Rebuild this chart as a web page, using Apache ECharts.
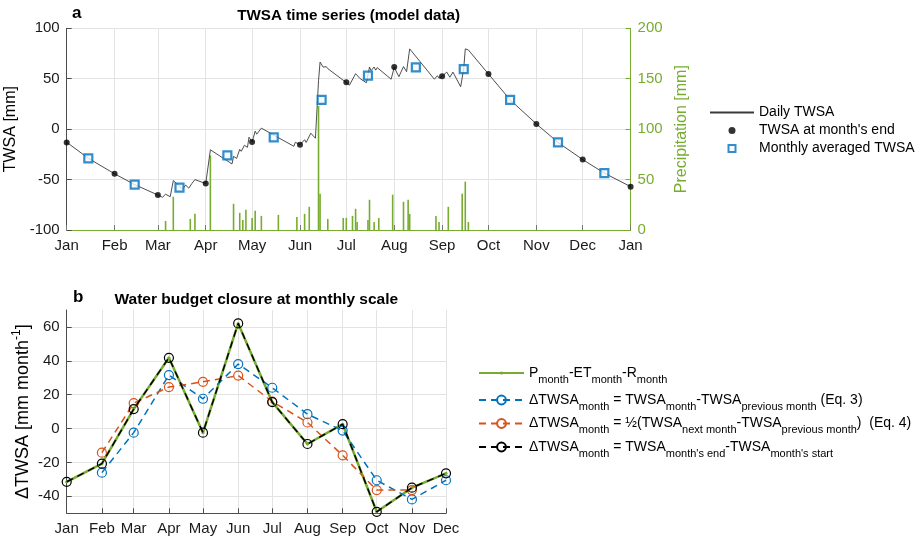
<!DOCTYPE html>
<html>
<head>
<meta charset="utf-8">
<script src="https://cdn.jsdelivr.net/npm/echarts@6/dist/echarts.min.js"></script>
<style>html,body{margin:0;padding:0;background:#fff}#c{width:921px;height:541px}</style>
</head>
<body>
<div id="c"></div>
<script>
// ---------- data ----------
const monthLabels = ['Jan','Feb','Mar','Apr','May','Jun','Jul','Aug','Sep','Oct','Nov','Dec','Jan'];
const monthStartDays = [0,31,59,90,120,151,181,212,243,273,304,334,365];

// daily TWSA (vertices), day of year / mm
const dailyDays = [0,14,31,44,59,62,64,67,69,75,77,79,81,83,90,93,107,108,110,112,113,115,117,118,120,122,123,126,147,148,151,154,155,158,161,163,164,166,168,169,170,179,181,183,184,187,190,194,196,197,199,200,201,210,212,215,218,220,222,238,240,241,243,246,248,250,255,257,258,259,260,273,287,304,318,334,348,365];
const dailyTWSA = [-13,-28.9,-44.3,-55,-65.3,-67.5,-64.5,-67,-51,-59.5,-55.5,-58.5,-54,-50,-54,-20.5,-34.5,-27,-29,-20,-22,-16,-18,-8,-12.8,-2,-5,1,-17,-13,-15.4,-10.5,-13.2,-4,-9,48,66.5,61.5,62,60,61.5,48.5,46.5,43.6,41.9,55,50,46,61.6,58,61.6,58.5,61,49.5,61.3,52,62,57,79.6,49.5,53,50.5,52.4,56.6,51.5,56.6,42,60,79.6,80,78.5,54.7,29.1,5.2,-13.2,-30.2,-43.6,-57];

// TWSA at month's end
const monthEndTWSA = [-13.2,-44.3,-65.3,-53.8,-12.8,-15.4,46.5,61.6,52.4,54.7,5.2,-30.2,-57];

// monthly averaged TWSA
const monthAvgDays = [14,44,73,104,134,165,195,226,257,287,318,348];
const monthAvgTWSA = [-28.9,-55.1,-58,-26,-8.2,29.1,53.1,61.3,59.6,29.1,-13.2,-43.6];

// daily precipitation (mm)
const precipDays = [64,69,80,83,93,108,112,114,116,120,122,126,137,149,154,157,163,164,169,179,181,185,187,188,195,196,199,202,211,218,221,222,239,241,247,256,258,260];
const precipMM   = [9,33,11,16,74,26,17,10,20,12,19,14,15,13,16,23,123,36,11,12,12,14,21,8,10,30,8,12,35,28,30,16,14,8,23,36,48,8];

// panel b: monthly delta TWSA (mm/month)
const petValues     = [-31.4,-20.7,11.5,41.8,-2.4,62.1,15.6,-9.1,2.6,-49.1,-34.9,-26.4];
const eq3Values     = [null,-26,-2.4,31.6,17.6,38.1,24.1,8.5,-1.2,-30.5,-41.8,-30.5];
const eq4Values     = [null,-14.2,15,24.5,27.6,31.3,16,3.6,-15.8,-36.3,-36.3,null];
const endStartValues= [-31.4,-20.7,11.5,41.8,-2.4,62.1,15.6,-9.1,2.6,-49.1,-34.9,-26.4];
const panelBTicks   = [-40,-20,0,20,40,60];

// ---------- helpers ----------
const FONT = "'Liberation Sans', Arial, Helvetica, sans-serif";
const topCats = Array.from({length: 366}, (_, i) => String(i));
const botCats = Array.from({length: 335}, (_, i) => String(i));
const isMonthStart = (i) => monthStartDays.indexOf(i) >= 0;
const labelFor = (i) => monthLabels[monthStartDays.indexOf(i)];
const pairs = (xs, ys) => xs.map((x, i) => [x, ys[i]]).filter(p => p[1] !== null);
const monthPairs = (vals) => pairs(monthStartDays.slice(0, 12), vals);

const GRID = '#e3e3e3', AX = '#4d4d4d', GREEN = '#77AC30', BLUE = '#0072BD', ORANGE = '#D95319';
const SQUARE = 'path://M0,0L10,0L10,10L0,10Z';

const legendText = {
  pet: '{b|P}{s|month}{b|-ET}{s|month}{b|-R}{s|month}',
  eq3: '{b|\u0394TWSA}{s|month}{b| = TWSA}{s|month}{b|-TWSA}{s|previous month}{b| (Eq. 3)}',
  eq4: '{b|\u0394TWSA}{s|month}{b| = \u00bd(TWSA}{s|next month}{b|-TWSA}{s|previous month}{b|)  (Eq. 4)}',
  es:  '{b|\u0394TWSA}{s|month}{b| = TWSA}{s|month\'s end}{b|-TWSA}{s|month\'s start}'
};
const richSub = {
  b: {fontSize: 14, lineHeight: 24, fontFamily: FONT, color: '#000'},
  s: {fontSize: 11, lineHeight: 11, verticalAlign: 'bottom', fontFamily: FONT, color: '#000'}
};

const chart = echarts.init(document.getElementById('c'));
chart.setOption({
  animation: false,
  textStyle: {fontFamily: FONT},
  title: [
    {text: 'a', left: 72, top: 5, padding: 0, textStyle: {fontSize: 17, fontWeight: 'bold', color: '#000', fontFamily: FONT}},
    {text: 'TWSA time series (model data)', left: 348.6, textAlign: 'center', top: 8, padding: 0, textStyle: {fontSize: 15.2, fontWeight: 'bold', color: '#000', fontFamily: FONT}},
    {text: 'b', left: 73, top: 289, padding: 0, textStyle: {fontSize: 17, fontWeight: 'bold', color: '#000', fontFamily: FONT}},
    {text: 'Water budget closure at monthly scale', left: 256.3, textAlign: 'center', top: 292, padding: 0, textStyle: {fontSize: 15.5, fontWeight: 'bold', color: '#000', fontFamily: FONT}}
  ],
  legend: [
    {
      data: [{name: 'Daily TWSA', itemStyle: {color: 'rgba(0,0,0,0)', borderWidth: 0, opacity: 0}}, "TWSA at month's end", 'Monthly averaged TWSA'],
      orient: 'vertical', left: 709, top: 105, padding: 0, itemWidth: 44, itemHeight: 7, itemGap: 3,
      symbolKeepAspect: true,
      textStyle: {fontSize: 14, color: '#000', fontFamily: FONT, lineHeight: 15}
    },
    {
      data: ['pet'], orient: 'vertical', left: 478, top: 366, padding: 0, itemWidth: 45, itemHeight: 4,
      formatter: (n) => legendText[n],
      textStyle: {rich: richSub}
    },
    {
      data: ['eq3', 'eq4', 'es'], orient: 'vertical', left: 478, top: 393, padding: 0, itemWidth: 45, itemHeight: 11, itemGap: 4.5,
      formatter: (n) => legendText[n],
      textStyle: {rich: richSub}
    }
  ],
  grid: [
    {left: 66.7, right: 290.4, top: 28.3, bottom: 311, outerBoundsMode: 'none', containLabel: false},
    {left: 66.7, right: 475, top: 310, bottom: 27.7, outerBoundsMode: 'none', containLabel: false}
  ],
  xAxis: [
    {
      type: 'category', gridIndex: 0, data: topCats, boundaryGap: false,
      axisLine: {onZero: false, lineStyle: {color: GREEN, width: 1.2}},
      axisTick: {inside: true, length: 5, interval: (i) => isMonthStart(i), lineStyle: {color: '#777'}},
      axisLabel: {interval: (i) => isMonthStart(i), formatter: (v, i) => labelFor(i), fontSize: 15, color: '#1a1a1a', margin: 8},
      splitLine: {show: true, interval: (i) => isMonthStart(i), lineStyle: {color: GRID}}
    },
    {
      type: 'category', gridIndex: 1, data: botCats, boundaryGap: false,
      axisLine: {onZero: false, lineStyle: {color: AX}},
      axisTick: {inside: true, length: 5, interval: (i) => isMonthStart(i), lineStyle: {color: AX}},
      axisLabel: {interval: (i) => isMonthStart(i), formatter: (v, i) => labelFor(i), fontSize: 15, color: '#1a1a1a', margin: 8},
      splitLine: {show: true, interval: (i) => isMonthStart(i), lineStyle: {color: GRID}}
    }
  ],
  yAxis: [
    {
      type: 'value', gridIndex: 0, min: -100, max: 100, interval: 50,
      name: 'TWSA [mm]', nameLocation: 'middle', nameGap: 40,
      nameTextStyle: {fontSize: 16, color: '#000', fontFamily: FONT},
      axisLine: {show: true, lineStyle: {color: AX}},
      axisTick: {show: true, inside: true, length: 5, lineStyle: {color: AX}},
      axisLabel: {fontSize: 15, color: '#1a1a1a', margin: 7},
      splitLine: {show: true, lineStyle: {color: GRID}}
    },
    {
      type: 'value', gridIndex: 0, min: 0, max: 200, interval: 50, position: 'right',
      name: 'Precipitation [mm]', nameLocation: 'middle', nameGap: 40,
      nameTextStyle: {fontSize: 16, color: GREEN, fontFamily: FONT},
      axisLine: {show: true, lineStyle: {color: GREEN}},
      axisTick: {show: true, inside: true, length: 5, lineStyle: {color: GREEN}},
      axisLabel: {fontSize: 15, color: GREEN, margin: 7},
      splitLine: {show: false}
    },
    {
      type: 'value', gridIndex: 1, min: -50, max: 70,
      name: '{a|\u0394TWSA [mm month}{p|-1}{a|]}', nameLocation: 'middle', nameGap: 32,
      nameTextStyle: {rich: {
        a: {fontSize: 18, lineHeight: 24, color: '#000', fontFamily: FONT},
        p: {fontSize: 12, lineHeight: 12, verticalAlign: 'top', color: '#000', fontFamily: FONT}
      }},
      axisLine: {show: true, lineStyle: {color: AX}},
      axisTick: {show: true, inside: true, length: 5, lineStyle: {color: AX}, customValues: panelBTicks},
      axisLabel: {fontSize: 15, color: '#1a1a1a', margin: 7, customValues: panelBTicks},
      splitLine: {show: true, lineStyle: {color: GRID}}
    }
  ],
  series: [
    {
      name: 'Precipitation', type: 'bar', xAxisIndex: 0, yAxisIndex: 1,
      data: pairs(precipDays, precipMM), barWidth: 1.6, itemStyle: {color: GREEN}, z: 2
    },
    {
      name: 'Daily TWSA', type: 'line', xAxisIndex: 0, yAxisIndex: 0,
      data: pairs(dailyDays, dailyTWSA), symbol: 'none',
      lineStyle: {color: '#3a3a3a', width: 0.9}, itemStyle: {color: '#3a3a3a'}, z: 3
    },
    {
      name: "TWSA at month's end", type: 'scatter', xAxisIndex: 0, yAxisIndex: 0,
      data: pairs(monthStartDays, monthEndTWSA), symbol: 'circle', symbolSize: 6,
      itemStyle: {color: '#000'}, z: 4
    },
    {
      name: 'Monthly averaged TWSA', type: 'scatter', xAxisIndex: 0, yAxisIndex: 0,
      data: pairs(monthAvgDays, monthAvgTWSA), symbol: SQUARE, symbolSize: 8, symbolKeepAspect: true,
      itemStyle: {color: '#f4f8fc', borderColor: BLUE, borderWidth: 2.2}, z: 5
    },
    {
      name: 'pet', type: 'line', xAxisIndex: 1, yAxisIndex: 2,
      data: monthPairs(petValues), symbol: 'circle', symbolSize: 3,
      lineStyle: {color: GREEN, width: 2.5}, itemStyle: {color: GREEN}, z: 3
    },
    {
      name: 'eq3', type: 'line', xAxisIndex: 1, yAxisIndex: 2,
      data: monthPairs(eq3Values), symbol: 'circle', symbolSize: 9,
      lineStyle: {color: BLUE, width: 1.5, type: [7, 5]},
      itemStyle: {color: 'rgba(255,255,255,0)', borderColor: BLUE, borderWidth: 1.2}, z: 4
    },
    {
      name: 'eq4', type: 'line', xAxisIndex: 1, yAxisIndex: 2,
      data: monthPairs(eq4Values), symbol: 'circle', symbolSize: 9,
      lineStyle: {color: ORANGE, width: 1.5, type: [7, 5]},
      itemStyle: {color: 'rgba(255,255,255,0)', borderColor: ORANGE, borderWidth: 1.2}, z: 4
    },
    {
      name: 'es', type: 'line', xAxisIndex: 1, yAxisIndex: 2,
      data: monthPairs(endStartValues), symbol: 'circle', symbolSize: 9,
      lineStyle: {color: '#000', width: 1.5, type: [7, 5]},
      itemStyle: {color: 'rgba(255,255,255,0)', borderColor: '#000', borderWidth: 1.2}, z: 5
    }
  ]
});
</script>
</body>
</html>
